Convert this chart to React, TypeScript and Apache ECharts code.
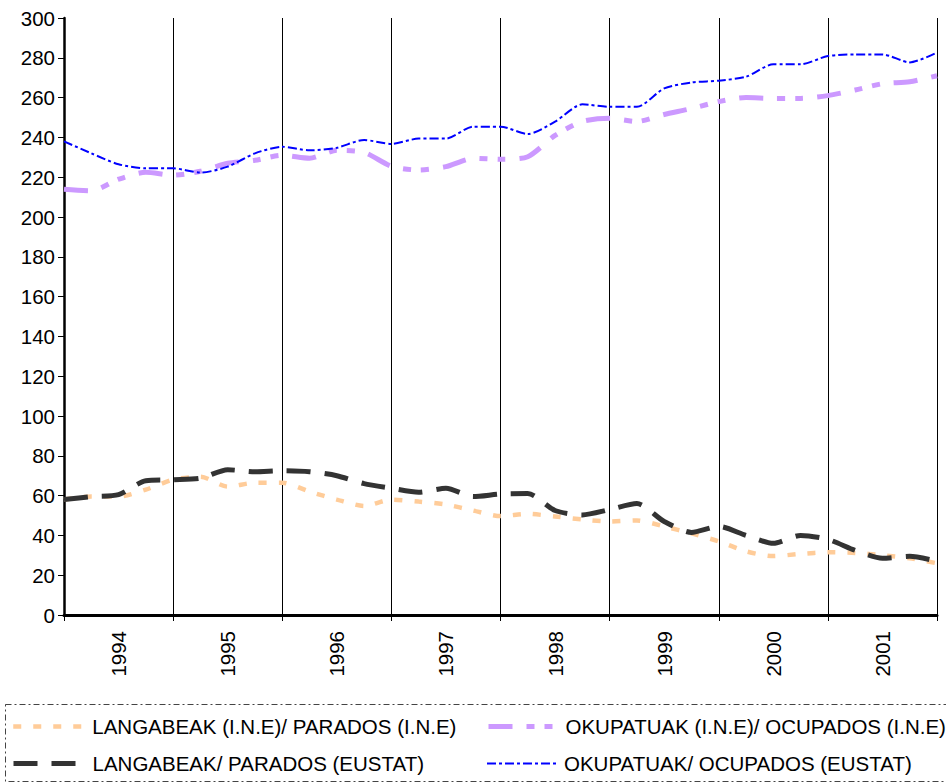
import React, { useEffect, useRef } from "react";
import * as echarts from "echarts";

const quarters = [
  "1994-I", "1994-II", "1994-III", "1994-IV",
  "1995-I", "1995-II", "1995-III", "1995-IV",
  "1996-I", "1996-II", "1996-III", "1996-IV",
  "1997-I", "1997-II", "1997-III", "1997-IV",
  "1998-I", "1998-II", "1998-III", "1998-IV",
  "1999-I", "1999-II", "1999-III", "1999-IV",
  "2000-I", "2000-II", "2000-III", "2000-IV",
  "2001-I", "2001-II", "2001-III", "2001-IV",
  "2002-I",
];

const paradosINE = [58, 59.5, 59.5, 63, 68, 69.5, 64.5, 66.5, 66.5, 62, 58, 54.8, 58, 57, 55.5, 52.5, 49.7, 50.8, 49.5, 48, 47, 47.5, 44.5, 41, 37, 32, 29.6, 30.7, 31.5, 31.2, 30, 28.5, 26];
const paradosEUSTAT = [58, 59.5, 60.5, 67.5, 68, 68.7, 73, 72, 72.5, 72, 70, 66, 63.7, 61.7, 63.7, 59.5, 60.8, 61, 52.5, 50.3, 53, 56, 47, 41.5, 44.5, 40, 36, 40, 38, 32.5, 28.5, 29.5, 27];
const ocupadosINE = [214, 213.2, 219, 222.5, 221, 223, 227, 228.5, 231, 229.5, 233.5, 232.5, 225.5, 223.6, 225.3, 229.5, 229, 230.3, 241, 248, 249.6, 248, 251.5, 254.5, 258, 260, 259.6, 259.6, 261, 263.8, 267, 268, 271];
const ocupadosEUSTAT = [238, 232, 226.5, 224.5, 224.5, 222.3, 225.3, 232, 235.3, 233.5, 234.8, 238.7, 236.7, 239.4, 239.4, 245.4, 245.4, 241.7, 247.9, 256.6, 255.4, 255.4, 264.6, 267.6, 268.5, 270.5, 276.7, 276.7, 280.9, 281.7, 281.7, 277.7, 282.6];

const names = [
  "LANGABEAK (I.N.E)/ PARADOS (I.N.E)",
  "OKUPATUAK (I.N.E)/ OCUPADOS (I.N.E)",
  "LANGABEAK/ PARADOS (EUSTAT)",
  "OKUPATUAK/ OCUPADOS (EUSTAT)",
];

const FONT = "'Liberation Sans', Arial, sans-serif";

const styles = [
  { color: "#FFCC99", width: 4.5, type: [8, 12] },
  { color: "#CC99FF", width: 5, type: [24, 14, 8, 10, 8, 14] },
  { color: "#333333", width: 5, type: [24, 14] },
  { color: "#0000FF", width: 2, type: [9, 3, 3, 3] },
];

export default function App() {
  const ref = useRef<HTMLDivElement>(null);
  useEffect(() => {
    if (!ref.current) return;
    const chart = echarts.init(ref.current, null, { renderer: "svg" });
    const legendBase = (i: number, left: number, top: number, w: number) => ({
      orient: "horizontal",
      padding: 0,
      left,
      top,
      data: [names[i]],
      itemWidth: w,
      itemHeight: 20,
      itemGap: 5,
      itemStyle: { opacity: 0 },
      lineStyle: { color: styles[i].color, width: styles[i].width, type: styles[i].type, cap: "butt" },
      textStyle: { fontSize: 20.5, color: "#000", fontFamily: FONT },
      selectedMode: false,
    });
    const mk = (i: number, data: number[], z: number) => ({
      name: names[i],
      type: "line",
      data,
      symbol: "none",
      smooth: 0.25,
      z,
      lineStyle: { color: styles[i].color, width: styles[i].width, type: styles[i].type, cap: "butt" },
      itemStyle: { color: styles[i].color },
    });
    chart.setOption({
      animation: false,
      backgroundColor: "#fff",
      textStyle: { fontFamily: FONT },
      grid: { left: 64, right: 9, top: 18, bottom: 169, containLabel: false },
      xAxis: {
        type: "category",
        data: quarters,
        boundaryGap: false,
        axisLine: { show: true, lineStyle: { color: "#000", width: 3 } },
        axisTick: {
          show: true,
          length: 6,
          interval: (i: number) => i % 4 === 0,
          lineStyle: { color: "#000", width: 1 },
        },
        axisLabel: {
          interval: (i: number) => i % 4 === 2,
          rotate: 90,
          margin: 16,
          fontSize: 20.5,
          color: "#000",
          fontFamily: FONT,
          formatter: (v: string) => v.split("-")[0],
        },
        splitLine: {
          show: true,
          interval: (i: number) => i % 4 === 0 && i > 0,
          lineStyle: { color: "#000", width: 1 },
        },
      },
      yAxis: {
        type: "value",
        min: 0,
        max: 300,
        interval: 20,
        axisLine: { show: true, lineStyle: { color: "#000", width: 2.5 } },
        axisTick: { show: true, length: 6, lineStyle: { color: "#000", width: 1 } },
        axisLabel: { fontSize: 20.5, color: "#000", margin: 9, fontFamily: FONT },
        splitLine: { show: false },
      },
      legend: [
        legendBase(0, 11, 716, 74),
        legendBase(1, 486, 716, 72),
        legendBase(2, 11, 753, 74),
        legendBase(3, 486, 753, 72),
      ],
      graphic: [
        {
          type: "rect",
          silent: true,
          shape: { x: 5.5, y: 704.5, width: 960, height: 77 },
          style: { fill: "none", stroke: "#444", lineWidth: 1, lineDash: [6, 3, 2, 3] },
        },
      ],
      series: [
        mk(0, paradosINE, 2),
        mk(1, ocupadosINE, 2),
        mk(2, paradosEUSTAT, 3),
        mk(3, ocupadosEUSTAT, 3),
      ],
    });
    return () => chart.dispose();
  }, []);
  return (
    <div
      ref={ref}
      style={{ position: "fixed", left: 0, top: 0, width: 946, height: 784, background: "#fff" }}
    />
  );
}
